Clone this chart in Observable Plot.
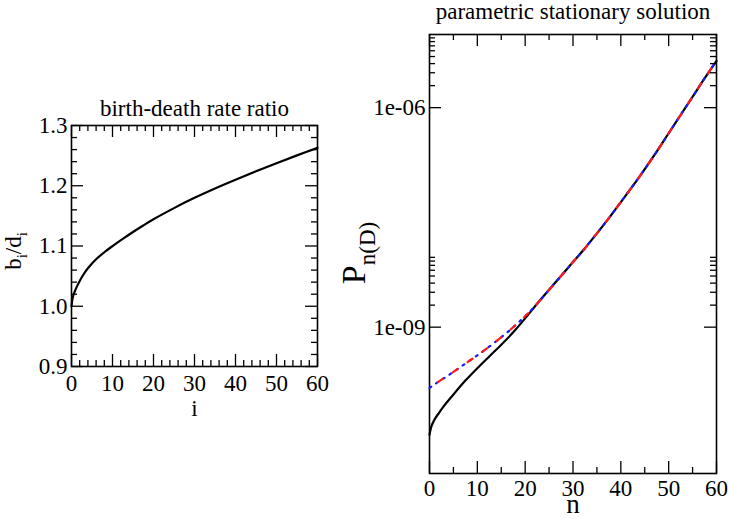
<!DOCTYPE html>
<html>
<head>
<meta charset="utf-8">
<script src="https://cdn.jsdelivr.net/npm/d3@7"></script>
<script src="https://cdn.jsdelivr.net/npm/@observablehq/plot@0.6"></script>
<style>
  html, body { margin: 0; padding: 0; background: #fff; }
  #wrap { position: relative; width: 729px; height: 519px; overflow: hidden; }
  #wrap svg { position: absolute; top: 0; }
  #wrap svg text { font-family: "Liberation Serif", serif !important; font-variant: normal !important; }
</style>
</head>
<body>
<div id="wrap"></div>
<script>
// ---------- Left panel data: birth-death rate ratio ----------
const leftI     = [0, 0.25, 0.5, 1, 2, 3, 4, 6, 8, 10, 12.5, 15, 17.5, 20, 25, 30, 35, 40, 45, 50, 55, 60];
const leftRatio = [1.000, 1.013, 1.019, 1.028, 1.042, 1.0535, 1.063, 1.078, 1.0896, 1.0998, 1.1118, 1.1233, 1.1341, 1.1444, 1.1629, 1.1799, 1.1954, 1.2099, 1.2239, 1.2374, 1.2504, 1.2629];
const leftXMajor = [0, 10, 20, 30, 40, 50, 60];
const leftXMinor = [2, 4, 6, 8, 12, 14, 16, 18, 22, 24, 26, 28, 32, 34, 36, 38, 42, 44, 46, 48, 52, 54, 56, 58];
const leftYMajor = [0.9, 1.0, 1.1, 1.2, 1.3];
const leftYMinor = [0.92, 0.94, 0.96, 0.98, 1.02, 1.04, 1.06, 1.08, 1.12, 1.14, 1.16, 1.18, 1.22, 1.24, 1.26, 1.28];

// ---------- Right panel data: parametric stationary solution ----------
const exactN = [0, 0.25, 0.5, 1, 2, 3, 5, 7.5, 10, 12.5, 15, 17.5, 20, 22.5, 25, 27.5, 30, 32.5, 35, 37.5, 40, 42.5, 45, 47.5, 50, 52.5, 55, 57.5, 60];
const exactP = [3.39e-11, 4.07e-11, 4.57e-11, 5.37e-11, 6.76e-11, 8.32e-11, 1.20e-10, 1.86e-10, 2.75e-10, 3.98e-10, 5.75e-10, 8.51e-10,
                1.32e-9, 2.09e-9, 3.24e-9, 5.01e-9, 7.76e-9, 1.20e-8, 1.91e-8, 3.09e-8, 5.13e-8, 8.51e-8, 1.45e-7, 2.51e-7, 4.47e-7, 7.94e-7, 1.41e-6, 2.51e-6, 4.37e-6];
const approxN = [0, 2, 4, 6, 8, 10, 12, 14, 16, 18, 20, 22.5, 25, 27.5, 30, 32.5, 35, 37.5, 40, 42.5, 45, 47.5, 50, 52.5, 55, 57.5, 60];
const approxP = [1.48e-10, 1.82e-10, 2.21e-10, 2.72e-10, 3.35e-10, 4.12e-10, 5.13e-10, 6.46e-10, 8.22e-10, 1.07e-9, 1.41e-9,
                 2.09e-9, 3.24e-9, 5.01e-9, 7.76e-9, 1.20e-8, 1.91e-8, 3.09e-8, 5.13e-8, 8.51e-8, 1.45e-7, 2.51e-7, 4.47e-7, 7.94e-7, 1.41e-6, 2.51e-6, 4.37e-6];
const rightXMajor = [0, 10, 20, 30, 40, 50, 60];
const rightXMinor = [5, 15, 25, 35, 45, 55];
const rightYMajor = [1e-9, 1e-6];
const rightYMinor = [2e-9, 3e-9, 4e-9, 5e-9, 6e-9, 7e-9, 8e-9, 9e-9, 2e-6, 3e-6, 4e-6, 5e-6, 6e-6, 7e-6, 8e-6, 9e-6];

const leftData = leftI.map((i, k) => ({i, r: leftRatio[k]}));
const exactData = exactN.map((n, k) => ({n, p: exactP[k]}));
const approxData = approxN.map((n, k) => ({n, p: approxP[k]}));

const FONT = "Liberation Serif, serif";
const style = {fontFamily: FONT, fontSize: "23px", color: "black", background: "transparent", overflow: "visible"};
const tickStroke = {stroke: "black", strokeWidth: 1.3};
const txt = {fontSize: 23, fontFamily: FONT, fill: "black"};

// ---------- Left plot ----------
const LW = 340, LH = 519, lML = 71, lMR = 23, lMT = 125, lMB = 153;
const lFW = LW - lML - lMR, lFH = LH - lMT - lMB;
const left = Plot.plot({
  width: LW, height: LH,
  marginLeft: lML, marginRight: lMR, marginTop: lMT, marginBottom: lMB,
  style,
  x: {domain: [0, 60], axis: null},
  y: {domain: [0.9, 1.3], axis: null},
  marks: [
    Plot.tickX(leftXMajor, {x: d => d, insetTop: lFH - 12, ...tickStroke}),
    Plot.tickX(leftXMajor, {x: d => d, insetBottom: lFH - 12, ...tickStroke}),
    Plot.tickX(leftXMinor, {x: d => d, insetTop: lFH - 6, ...tickStroke}),
    Plot.tickX(leftXMinor, {x: d => d, insetBottom: lFH - 6, ...tickStroke}),
    Plot.tickY(leftYMajor, {y: d => d, insetRight: lFW - 12, ...tickStroke}),
    Plot.tickY(leftYMajor, {y: d => d, insetLeft: lFW - 12, ...tickStroke}),
    Plot.tickY(leftYMinor, {y: d => d, insetRight: lFW - 6, ...tickStroke}),
    Plot.tickY(leftYMinor, {y: d => d, insetLeft: lFW - 6, ...tickStroke}),
    Plot.frame({stroke: "black", strokeWidth: 1.6}),
    Plot.text(leftXMajor, {x: d => d, text: d => String(d), frameAnchor: "bottom", lineAnchor: "top", dy: 8, ...txt}),
    Plot.text(leftYMajor, {y: d => d, text: d => d3.format(".1f")(d), frameAnchor: "left", textAnchor: "end", dx: -4, ...txt}),
    Plot.line(leftData, {x: "i", y: "r", stroke: "black", strokeWidth: 2.2, curve: "catmull-rom"}),
    Plot.text(["birth-death rate ratio"], {frameAnchor: "top", lineAnchor: "bottom", dy: -10, ...txt}),
    Plot.text(["i"], {frameAnchor: "bottom", lineAnchor: "bottom", dy: 49, ...txt})
  ]
});
left.style.left = "0px";
{
  const t = d3.select(left).append("text")
    .attr("transform", "translate(21,251) rotate(-90)")
    .attr("text-anchor", "middle")
    .attr("font-family", FONT).attr("font-size", 23).attr("fill", "black");
  t.append("tspan").text("b");
  t.append("tspan").attr("font-size", 15).attr("dy", 6).text("i");
  t.append("tspan").attr("dy", -6).text("/d");
  t.append("tspan").attr("font-size", 15).attr("dy", 6).text("i");
}

// ---------- Right plot ----------
const RW = 389, RH = 519, rML = 89, rMR = 13, rMT = 34, rMB = 46;
const rFW = RW - rML - rMR, rFH = RH - rMT - rMB;
const fmtExp = d => {
  const e = Math.round(Math.log10(d));
  return "1e" + (e < 0 ? "-" : "+") + String(Math.abs(e)).padStart(2, "0");
};
const right = Plot.plot({
  width: RW, height: RH,
  marginLeft: rML, marginRight: rMR, marginTop: rMT, marginBottom: rMB,
  style,
  x: {domain: [0, 60], axis: null},
  y: {type: "log", domain: [1e-11, 1e-5], axis: null},
  marks: [
    Plot.tickX(rightXMajor, {x: d => d, insetTop: rFH - 12, ...tickStroke}),
    Plot.tickX(rightXMajor, {x: d => d, insetBottom: rFH - 12, ...tickStroke}),
    Plot.tickX(rightXMinor, {x: d => d, insetTop: rFH - 6, ...tickStroke}),
    Plot.tickX(rightXMinor, {x: d => d, insetBottom: rFH - 6, ...tickStroke}),
    Plot.tickY(rightYMajor, {y: d => d, insetRight: rFW - 12, ...tickStroke}),
    Plot.tickY(rightYMajor, {y: d => d, insetLeft: rFW - 12, ...tickStroke}),
    Plot.tickY(rightYMinor, {y: d => d, insetRight: rFW - 6, ...tickStroke}),
    Plot.tickY(rightYMinor, {y: d => d, insetLeft: rFW - 6, ...tickStroke}),
    Plot.frame({stroke: "black", strokeWidth: 1.6}),
    Plot.text(rightXMajor, {x: d => d, text: d => String(d), frameAnchor: "bottom", lineAnchor: "top", dy: 6, ...txt}),
    Plot.text(rightYMajor, {y: d => d, text: fmtExp, frameAnchor: "left", textAnchor: "end", dx: -4, ...txt}),
    Plot.line(exactData, {x: "n", y: "p", stroke: "black", strokeWidth: 2.2, curve: "monotone-x"}),
    Plot.line(approxData, {x: "n", y: "p", stroke: "#1a1aff", strokeWidth: 2.2, strokeDasharray: "2,6", curve: "monotone-x"}),
    Plot.line(approxData, {x: "n", y: "p", stroke: "#ff1a1a", strokeWidth: 2.2, strokeDasharray: "6,12", strokeDashoffset: 8, curve: "monotone-x"}),
    Plot.text(["parametric stationary solution"], {frameAnchor: "top", lineAnchor: "bottom", dy: -16, ...txt}),
    Plot.text(["n"], {frameAnchor: "bottom", lineAnchor: "bottom", dy: 39, ...txt, fontSize: 27})
  ]
});
right.style.left = "340px";
{
  const t = d3.select(right).append("text")
    .attr("transform", "translate(25,253) rotate(-90)")
    .attr("text-anchor", "middle")
    .attr("font-family", FONT).attr("font-size", 34).attr("fill", "black");
  t.append("tspan").text("P");
  t.append("tspan").attr("font-size", 23).attr("dy", 10).text("n(D)");
}

document.getElementById("wrap").append(left, right);
</script>
</body>
</html>
